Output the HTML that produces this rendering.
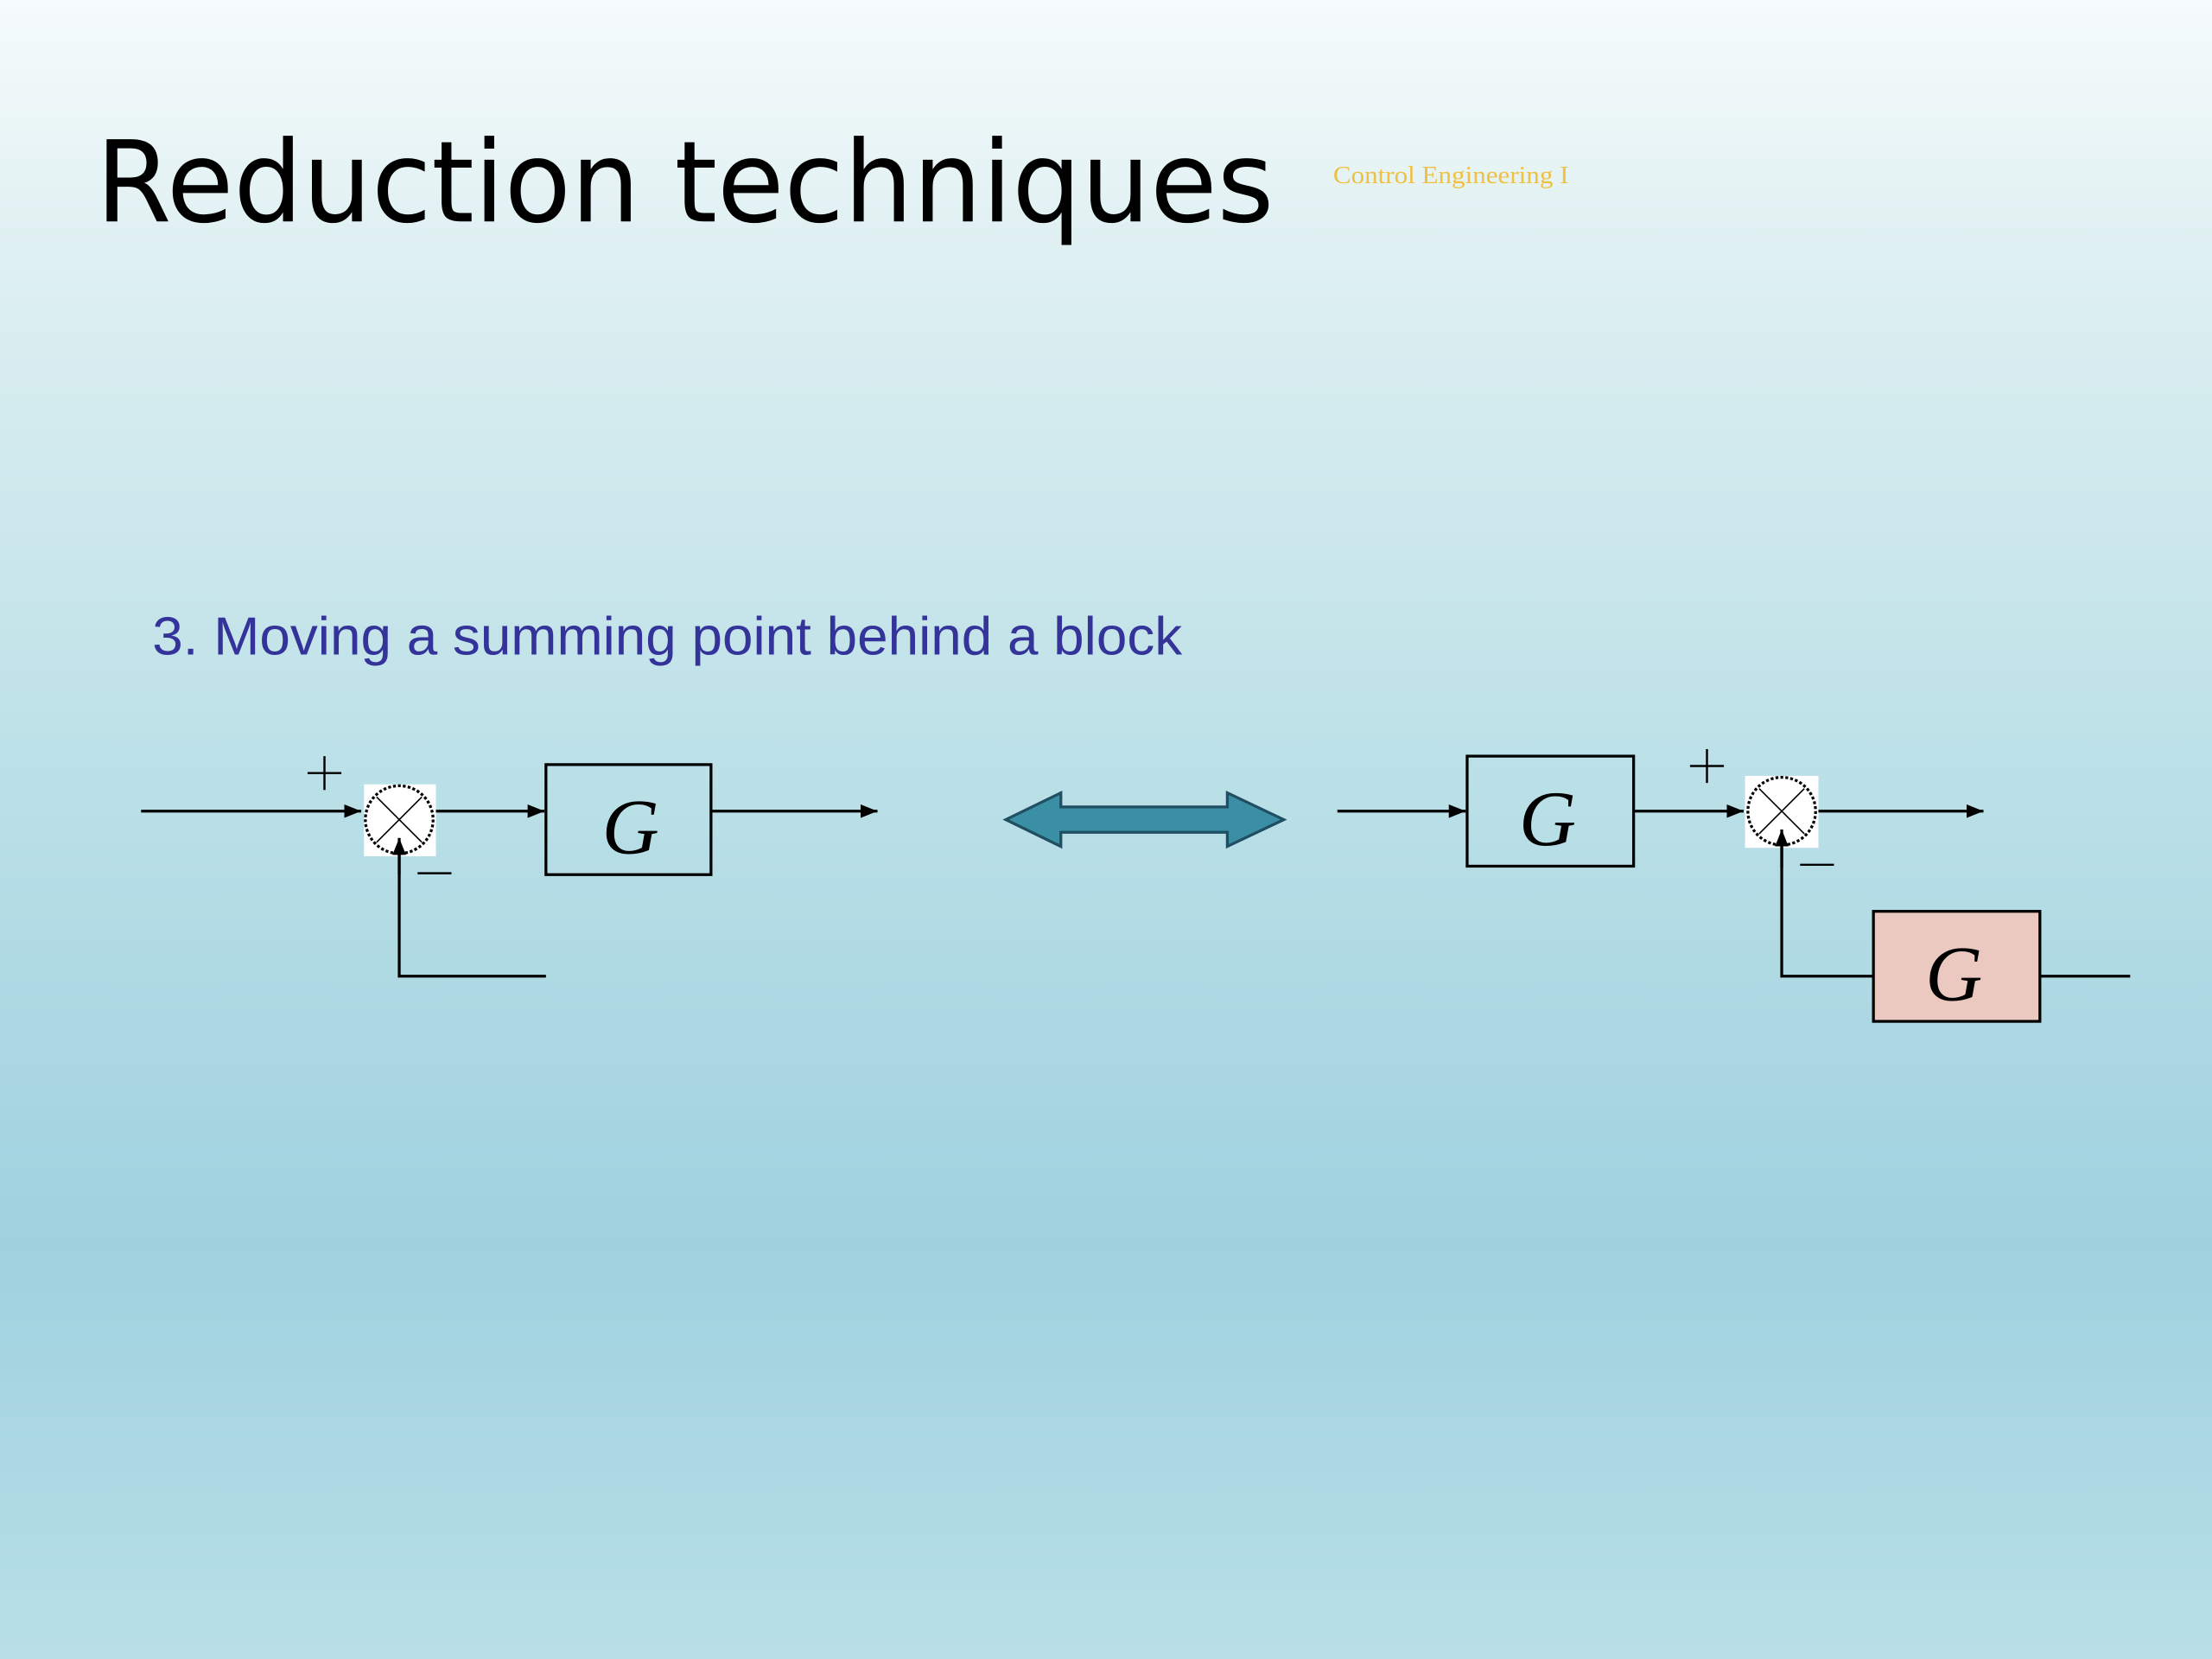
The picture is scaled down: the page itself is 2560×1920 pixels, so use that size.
<!DOCTYPE html>
<html><head><meta charset="utf-8"><style>
html,body{margin:0;padding:0;width:2560px;height:1920px;overflow:hidden}
svg{display:block}
</style></head><body>
<svg width="2560" height="1920" viewBox="0 0 1568 1176" xmlns="http://www.w3.org/2000/svg">
<defs>
<linearGradient id="bg" x1="0" y1="0" x2="0" y2="1">
<stop offset="0" stop-color="#f6fbfb"/>
<stop offset="0.15" stop-color="#dff0f2"/>
<stop offset="0.45" stop-color="#bde1e8"/>
<stop offset="0.75" stop-color="#9fd1df"/>
<stop offset="1" stop-color="#b8dfe7"/>
</linearGradient>
<marker id="ah" viewBox="0 0 10 10" refX="10" refY="5" markerWidth="12" markerHeight="12" markerUnits="userSpaceOnUse" orient="auto">
<path d="M0,1 L10,5 L0,9 z" fill="#000"/></marker>
</defs>
<rect width="1568" height="1176" fill="url(#bg)"/>
<text x="68" y="157" font-family="DejaVu Sans, Liberation Sans, sans-serif" font-size="80" fill="#000" textLength="835" lengthAdjust="spacingAndGlyphs">Reduction techniques</text>
<text x="945" y="130" font-family="Liberation Serif, serif" font-size="17.5" fill="#f0c040" textLength="167" lengthAdjust="spacingAndGlyphs">Control Engineering I</text>
<text x="108" y="464" font-family="Liberation Sans, sans-serif" font-size="38" fill="#33339a" textLength="730" lengthAdjust="spacingAndGlyphs">3. Moving a summing point behind a block</text>

<g stroke="#000" stroke-width="2" fill="none">
<line x1="100" y1="575" x2="256" y2="575" marker-end="url(#ah)"/>
<rect x="258" y="556" width="51" height="51" fill="#fff" stroke="none"/>
<ellipse cx="283" cy="581" rx="24" ry="24" stroke-dasharray="2,1.5"/>
<line x1="267" y1="565" x2="299" y2="597" stroke-width="1"/>
<line x1="299" y1="565" x2="267" y2="597" stroke-width="1"/>
<line x1="309" y1="575" x2="386" y2="575" marker-end="url(#ah)"/>
<rect x="387" y="542" width="117" height="78"/>
<line x1="504" y1="575" x2="622" y2="575" marker-end="url(#ah)"/>
<polyline points="387,692 283,692 283,606" />
<line x1="283" y1="620" x2="283" y2="594" marker-end="url(#ah)"/>
<line x1="218" y1="548" x2="242" y2="548" stroke-width="1.5"/>
<line x1="230" y1="536" x2="230" y2="560" stroke-width="1.5"/>
<line x1="296" y1="619" x2="320" y2="619" stroke-width="1.5"/>
<line x1="948" y1="575" x2="1039" y2="575" marker-end="url(#ah)"/>
<rect x="1040" y="536" width="118" height="78"/>
<line x1="1158" y1="575" x2="1236" y2="575" marker-end="url(#ah)"/>
<rect x="1237" y="550" width="52" height="51" fill="#fff" stroke="none"/>
<ellipse cx="1263" cy="575" rx="24" ry="24" stroke-dasharray="2,1.5"/>
<line x1="1247" y1="559" x2="1279" y2="591" stroke-width="1"/>
<line x1="1279" y1="559" x2="1247" y2="591" stroke-width="1"/>
<line x1="1289" y1="575" x2="1406" y2="575" marker-end="url(#ah)"/>
<polyline points="1328,692 1263,692 1263,600"/>
<line x1="1263" y1="615" x2="1263" y2="588" marker-end="url(#ah)"/>
<rect x="1328" y="646" width="118" height="78" fill="#ebc9c0"/>
<line x1="1446" y1="692" x2="1510" y2="692"/>
<line x1="1198" y1="543" x2="1222" y2="543" stroke-width="1.5"/>
<line x1="1210" y1="531" x2="1210" y2="555" stroke-width="1.5"/>
<line x1="1276" y1="613" x2="1300" y2="613" stroke-width="1.5"/>
</g>
<g font-family="Liberation Serif, serif" font-style="italic" font-size="56" fill="#000" text-anchor="middle">
<text x="447" y="605">G</text>
<text x="1097" y="599">G</text>
<text x="1385" y="709">G</text>
</g>
<path d="M713,581 L752,562 L752,572 L870,572 L870,562 L910,581 L870,600 L870,590 L752,590 L752,600 Z" fill="#3a8fa5" stroke="#1f4f60" stroke-width="2"/>
</svg>
</body></html>
